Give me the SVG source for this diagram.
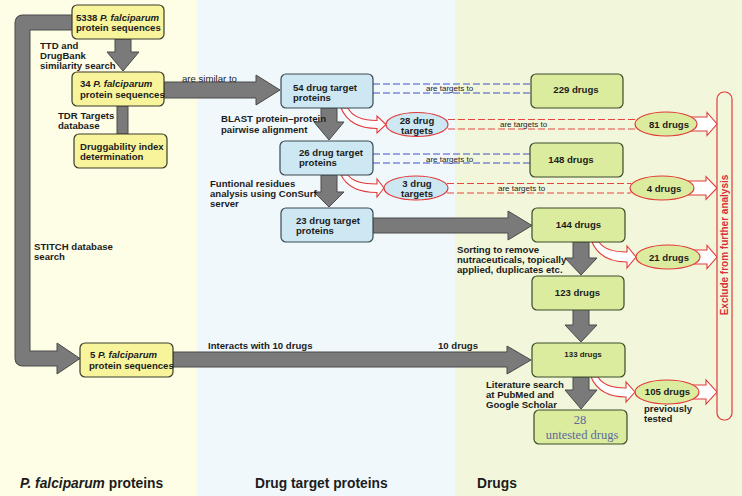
<svg xmlns="http://www.w3.org/2000/svg" width="742" height="496" viewBox="0 0 742 496">
<style>
.t{font-family:"Liberation Sans",Arial,sans-serif;font-weight:bold;font-size:9.6px;fill:#1c1c1c}
.s{font-weight:normal;font-size:8px}
.sm{font-weight:normal;font-size:9.6px}
.i{font-style:italic}
.big{font-size:13.8px}
.ny{fill:#f8f49c;stroke:#3a3a2a;stroke-width:1.2}
.nb{fill:#cde8f3;stroke:#3a4a52;stroke-width:1.2}
.ng{fill:#dcec9e;stroke:#3a4a2a;stroke-width:1.2}
.eb{fill:#cde8f3;stroke:#e23a3a;stroke-width:1.2}
.eg{fill:#dcec9e;stroke:#e23a3a;stroke-width:1.2}
.ga{fill:#7a7a7a;stroke:#4a4a4a;stroke-width:1}
.ha{fill:#ffffff;stroke:#e23a3a;stroke-width:1.1}
.bd{stroke:#3f50c6;stroke-width:1;stroke-dasharray:7,3;fill:none}
.rd{stroke:#e8453f;stroke-width:1;stroke-dasharray:7,3;fill:none}
.c{text-anchor:middle}
</style>
<g id="background">
<rect x="0" y="0" width="197" height="496" fill="#fefee6"/>
<rect x="197" y="0" width="258" height="496" fill="#f0f8fc"/>
<rect x="455" y="0" width="287" height="496" fill="#f2f7db"/>
</g>
<g id="connectors">
<path d="M73,22.5 H22.5 V358.5 H58" fill="none" stroke="#4a4a4a" stroke-width="16" stroke-linejoin="round"/>
<path d="M57,343 L80,358.5 L57,374 Z" class="ga"/>
<path d="M74,22.5 H22.5 V358.5 H58" fill="none" stroke="#7a7a7a" stroke-width="14" stroke-linejoin="round"/>
<path d="M115,39 H131 V52 H139 L123,71 L107,52 H115 Z" class="ga"/>
<rect x="117" y="106" width="11" height="28" class="ga"/>
<path d="M164,82 H256 V75 L280,90 L256,105 V98 H164 Z" class="ga"/>
<path d="M321,108 H337 V122 H344 L329,140 L314,122 H321 Z" class="ga"/>
<path d="M321,175 H337 V192 H344 L329,207 L314,192 H321 Z" class="ga"/>
<path d="M373,218 H508 V211 L532,225.5 L508,240 V233 H373 Z" class="ga"/>
<path d="M573,242 H589 V258 H597 L581,275 L565,258 H573 Z" class="ga"/>
<path d="M573,309 H589 V325 H597 L581,342 L565,325 H573 Z" class="ga"/>
<path d="M573,377 H589 V390 H597 L581,409 L565,390 H573 Z" class="ga"/>
<path d="M173,352 H507 V346 L531,360 L507,374 V367 H173 Z" class="ga"/>
<path d="M373,84 H531 M373,93 H531" class="bd"/>
<path d="M373,154 H530 M373,163 H530" class="bd"/>
<path d="M448,119.5 H636 M448,129 H636" class="rd"/>
<path d="M447,183.5 H631 M447,193 H631" class="rd"/>
<path d="M341,108 C347,122 360,128.5 377,128.5 V133 L386,124.5 L377,116 V120.5 C362,120.5 352,116 348,108 Z" class="ha"/>
<path d="M341,175 C347,187 360,192.5 377,192.5 V197 L384,188 L377,179 V184 C362,184 352,181 348,175 Z" class="ha"/>
<path d="M592,242 C598,256 610,262 627,262 V268 L636,257 L627,246 V252 C612,252 603,248 599,242 Z" class="ha"/>
<path d="M591,377 C597,391 610,397 626,397 V402 L635,392 L626,382 V388 C611,388 602,384 598,377 Z" class="ha"/>
<path d="M690,117 H707 V112.5 L717,124 L707,135.5 V131 H690 Z" class="ha"/>
<path d="M688,181 H706 V176.5 L717,188 L706,199.5 V195 H688 Z" class="ha"/>
<path d="M692,250 H707 V245.5 L717,257 L707,268.5 V264 H692 Z" class="ha"/>
<path d="M692,385 H706 V380 L717,392 L706,404 V399 H692 Z" class="ha"/>
<text class="t" x="40" y="48.5">TTD and</text>
<text class="t" x="40" y="58.5">DrugBank</text>
<text class="t" x="40" y="68.5">similarity search</text>
<text class="t" x="58" y="118.5">TDR Targets</text>
<text class="t" x="58" y="128.5">database</text>
<text class="t" x="34" y="249.5">STITCH database</text>
<text class="t" x="34" y="259.5">search</text>
<text class="t sm" x="182" y="81.5">are similar to</text>
<text class="t" x="221" y="121.8">BLAST protein–protein</text>
<text class="t" x="221" y="132.5">pairwise alignment</text>
<text class="t" x="210" y="187">Funtional residues</text>
<text class="t" x="210" y="197">analysis using ConSurf</text>
<text class="t" x="210" y="207">server</text>
<text class="t s" x="426" y="91">are targets to</text>
<text class="t s" x="426" y="162">are targets to</text>
<text class="t s" x="500" y="126.5">are targets to</text>
<text class="t s" x="498" y="190.5">are targets to</text>
<text class="t" x="457" y="252.5">Sorting to remove</text>
<text class="t" x="457" y="262.5">nutraceuticals, topically</text>
<text class="t" x="457" y="272.5">applied, duplicates etc.</text>
<text class="t" x="208" y="348.5">Interacts with 10 drugs</text>
<text class="t" x="438" y="348.5">10 drugs</text>
<text class="t" x="486" y="387.5">Literature search</text>
<text class="t" x="486" y="397.5">at PubMed and</text>
<text class="t" x="486" y="407.5">Google Scholar</text>
<text class="t" x="644" y="411.5">previously</text>
<text class="t" x="644" y="421.5">tested</text>
</g>
<g id="n5338"><rect x="72" y="5" width="92" height="34" rx="5" class="ny"/>
<text class="t" x="76" y="20.5">5338 <tspan class="i">P. falciparum</tspan></text>
<text class="t" x="76" y="31">protein sequences</text></g>
<g id="n34"><rect x="72" y="72" width="92" height="34" rx="5" class="ny"/>
<text class="t" x="80" y="86.5">34 <tspan class="i">P. falciparum</tspan></text>
<text class="t" x="80" y="97.5">protein sequences</text></g>
<g id="ndrugg"><rect x="74" y="134" width="93" height="34" rx="5" class="ny"/>
<text class="t" x="80" y="149.5">Druggability index</text>
<text class="t" x="80" y="160">determination</text></g>
<g id="n5"><rect x="80" y="343" width="93" height="34" rx="5" class="ny"/>
<text class="t" x="90" y="357.5">5 <tspan class="i">P. falciparum</tspan></text>
<text class="t" x="89" y="368.5">protein sequences</text></g>
<g id="n54"><rect x="281" y="74" width="92" height="34" rx="5" class="nb"/>
<text class="t" x="293" y="90.5">54 drug target</text>
<text class="t" x="293" y="100.5">proteins</text></g>
<g id="n26"><rect x="280" y="141" width="93" height="34" rx="5" class="nb"/>
<text class="t" x="299" y="155.5">26 drug target</text>
<text class="t" x="299" y="165.5">proteins</text></g>
<g id="n23"><rect x="281" y="208" width="92" height="34" rx="5" class="nb"/>
<text class="t" x="296" y="223.5">23 drug target</text>
<text class="t" x="296" y="234">proteins</text></g>
<g id="e28"><ellipse cx="417" cy="124.5" rx="31" ry="12" class="eb"/>
<text class="t c" x="417" y="123.5">28 drug</text>
<text class="t c" x="417" y="133.5">targets</text></g>
<g id="e3"><ellipse cx="416" cy="188" rx="32" ry="12" class="eb"/>
<text class="t c" x="417" y="186.5">3 drug</text>
<text class="t c" x="417" y="196.5">targets</text></g>
<g id="n229"><rect x="531" y="74" width="92" height="34" rx="5" class="ng"/>
<text class="t c" x="576" y="92.5">229 drugs</text></g>
<g id="n148"><rect x="530" y="143" width="93" height="34" rx="5" class="ng"/>
<text class="t c" x="571" y="162.5">148 drugs</text></g>
<g id="n144"><rect x="532" y="208" width="93" height="34" rx="5" class="ng"/>
<text class="t c" x="578.5" y="227.5">144 drugs</text></g>
<g id="n123"><rect x="532" y="276" width="92" height="34" rx="5" class="ng"/>
<text class="t c" x="577.5" y="296">123 drugs</text></g>
<g id="n133"><rect x="532" y="343" width="93" height="34" rx="5" class="ng"/>
<text class="t c" x="583" y="357" style="font-size:7.9px">133 drugs</text></g>
<g id="n28"><rect x="534" y="410" width="93" height="34" rx="5" class="ng"/>
<text class="c" x="580" y="423.5" style="font-family:'Liberation Serif','Times New Roman',serif;font-size:12.5px;fill:#5a6a9c">28</text>
<text class="c" x="582" y="438.5" style="font-family:'Liberation Serif','Times New Roman',serif;font-size:12.5px;fill:#5a6a9c">untested drugs</text></g>
<g id="e81"><ellipse cx="666" cy="124" rx="31" ry="12" class="eg"/>
<text class="t c" x="669" y="127.5">81 drugs</text></g>
<g id="e4"><ellipse cx="662" cy="188" rx="32" ry="12" class="eg"/>
<text class="t c" x="664" y="191.5">4 drugs</text></g>
<g id="e21"><ellipse cx="668" cy="257" rx="32" ry="12" class="eg"/>
<text class="t c" x="669" y="260.5">21 drugs</text></g>
<g id="e105"><ellipse cx="667" cy="392" rx="32" ry="12" class="eg"/>
<text class="t c" x="667.5" y="395">105 drugs</text></g>
<g id="exclude"><rect x="717" y="92" width="15" height="328" rx="7" fill="#f2f7db" stroke="#e23a3a" stroke-width="1.2"/>
<text class="t c" x="0" y="0" transform="translate(727.5,245) rotate(-90)" style="fill:#d8303a;font-size:10px">Exclude from further analysis</text></g>
<g id="labels">
<text class="t big" x="20" y="488"><tspan class="i">P. falciparum</tspan> proteins</text>
<text class="t big" x="255" y="488">Drug target proteins</text>
<text class="t big" x="477" y="488">Drugs</text>
</g>
</svg>
